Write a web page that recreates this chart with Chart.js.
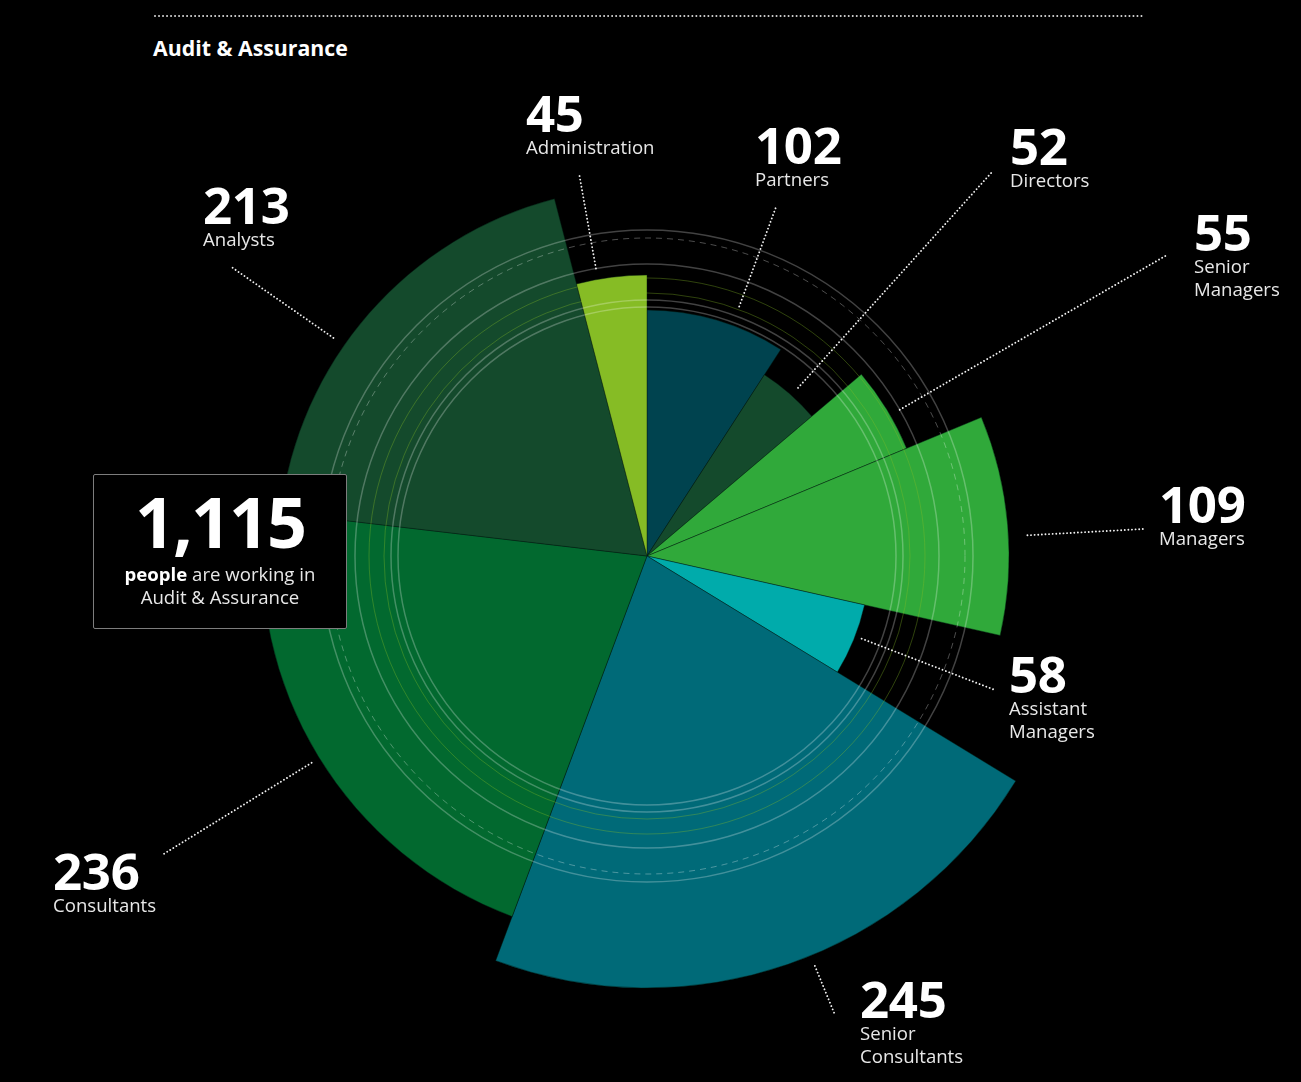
<!DOCTYPE html>
<html>
<head>
<meta charset="utf-8">
<script src="https://cdn.jsdelivr.net/npm/chart.js@4.4.1/dist/chart.umd.min.js"></script>
<style>
  html, body { margin: 0; padding: 0; background: #000; }
  body { width: 1301px; height: 1082px; position: relative; overflow: hidden; font-family: "Open Sans", "Noto Sans", sans-serif; }
  #wrap { position: absolute; left: 0; top: 0; width: 1301px; height: 1082px; }
  #topline { position: absolute; left: 154px; top: 14px; }
  #title { position: absolute; left: 153px; top: 34px; font-size: 21.3px; line-height: 28px; font-weight: 700; color: #fff; white-space: nowrap; }
  .lbl { position: absolute; white-space: nowrap; }
  .num { font-size: 51px; line-height: 45px; font-weight: 700; color: #fff; letter-spacing: -0.3px; }
  .name { font-size: 18.6px; line-height: 23px; color: #e8e8e8; }
  #box { position: absolute; left: 93px; top: 474px; width: 254px; height: 155px; box-sizing: border-box; border: 1px solid #7d7d7d; border-radius: 2px; background: #000; }
  #total { position: absolute; left: 0; right: 0; top: 10px; text-align: center; font-size: 70px; line-height: 72px; font-weight: 700; color: #fff; letter-spacing: -2px; }
  #sub { position: absolute; left: 0; right: 0; top: 87px; text-align: center; font-size: 18.6px; line-height: 23.3px; color: #e8e8e8; }
  #sub b { font-weight: 700; color: #fff; }
</style>
</head>
<body>
<svg id="topline" width="992" height="4"><line x1="1" y1="2" x2="990" y2="2" stroke="#d8d8d8" stroke-width="2" stroke-linecap="round" stroke-dasharray="0.01 4"/></svg>
<div id="title">Audit &amp; Assurance</div>
<div id="wrap"><canvas id="c"></canvas></div>
<div id="labels"></div>
<div id="box"><div id="total"></div><div id="sub"><b>people</b> are working in<br>Audit &amp; Assurance</div></div>
<script>
// ---- data ----
const categories = ["Partners", "Directors", "Senior Managers", "Managers", "Assistant Managers", "Senior Consultants", "Consultants", "Analysts", "Administration"];
const headcount = [102, 52, 55, 109, 58, 245, 236, 213, 45];          // slice angle
const reach = [246, 216, 281, 362, 223, 432, 385, 369, 281];          // slice radial extent (estimated)
const ringValues = [0, 249, 256, 263, 278, 292, 318, 326];            // decorative rings on the radial scale
const sliceColors = ["#00434f", "#144a2c", "#30a93a", "#30a93a", "#00abab", "#006a78", "#02692f", "#144a2c", "#86bc25"];

// ---- layout (label placement only) ----
const labelLayout = [
  { left: 755,  top: 121.5, wrap: false, lx: 776,  ly: 207, gap: 20 },
  { left: 1010, top: 122.8, wrap: false, lx: 992,  ly: 172, gap: 10 },
  { left: 1194, top: 208.8, wrap: true,  lx: 1167, ly: 255, gap: 11 },
  { left: 1159, top: 480.5, wrap: false, lx: 1143, ly: 529, gap: 19 },
  { left: 1009, top: 650.5, wrap: true,  lx: 995,  ly: 690, gap: 7 },
  { left: 860,  top: 975.5, wrap: true,  lx: 835,  ly: 1015, gap: 11 },
  { left: 53,   top: 847.8, wrap: false, lx: 162,  ly: 855, gap: 9 },
  { left: 203,  top: 182,   wrap: false, lx: 230,  ly: 266, gap: 13 },
  { left: 526,  top: 89.5,  wrap: false, lx: 579,  ly: 173, gap: 11 }
];

const total = headcount.reduce((a, b) => a + b, 0);
document.getElementById('total').textContent = total.toLocaleString('en-US');

const labelsDiv = document.getElementById('labels');
categories.forEach((name, i) => {
  const L = labelLayout[i];
  const d = document.createElement('div');
  d.className = 'lbl';
  d.style.left = L.left + 'px';
  d.style.top = L.top + 'px';
  const n = document.createElement('div');
  n.className = 'num';
  n.textContent = headcount[i];
  const t = document.createElement('div');
  t.className = 'name';
  if (L.wrap) {
    const parts = name.split(' ');
    t.innerHTML = parts[0] + '<br>' + parts.slice(1).join(' ');
  } else {
    t.textContent = name;
  }
  d.appendChild(n); d.appendChild(t);
  labelsDiv.appendChild(d);
});

const ringStyle = [
  null,
  { c: 'rgba(255,255,255,0.26)', w: 1.5, dash: [] },
  { c: 'rgba(255,255,255,0.26)', w: 1.5, dash: [] },
  { c: 'rgba(134,188,37,0.35)', w: 1, dash: [] },
  { c: 'rgba(134,188,37,0.35)', w: 1, dash: [] },
  { c: 'rgba(255,255,255,0.26)', w: 1.5, dash: [] },
  { c: 'rgba(255,255,255,0.30)', w: 1, dash: [6, 5] },
  { c: 'rgba(255,255,255,0.26)', w: 1.5, dash: [] }
];

const leaderPlugin = {
  id: 'leaders',
  afterDraw(chart) {
    const ctx = chart.ctx;
    const arcs = chart.getDatasetMeta(0).data;
    ctx.save();
    ctx.strokeStyle = '#f0f0f0';
    ctx.lineWidth = 1.9;
    ctx.lineCap = 'round';
    ctx.setLineDash([0.01, 3.6]);
    arcs.forEach((arc, i) => {
      const L = labelLayout[i];
      const dx = L.lx - arc.x, dy = L.ly - arc.y;
      const d = Math.hypot(dx, dy);
      const r0 = arc.outerRadius + L.gap;
      ctx.beginPath();
      ctx.moveTo(arc.x + dx / d * r0, arc.y + dy / d * r0);
      ctx.lineTo(L.lx, L.ly);
      ctx.stroke();
    });
    ctx.restore();
  }
};

new Chart(document.getElementById('c'), {
  type: 'polarArea',
  data: {
    labels: categories,
    datasets: [{
      data: reach,
      backgroundColor: sliceColors,
      borderColor: 'rgba(0,25,15,0.55)',
      borderWidth: 0.8,
      angle: (ctx) => headcount[ctx.dataIndex] / total * 360
    }]
  },
  options: {
    responsive: true,
    maintainAspectRatio: false,
    animation: false,
    events: [],
    layout: { padding: { left: 207, right: 214, top: 116, bottom: 86 } },
    plugins: { legend: { display: false }, tooltip: { enabled: false } },
    scales: {
      r: {
        min: 0,
        max: 440,
        startAngle: 0,
        ticks: { display: false },
        pointLabels: { display: false },
        angleLines: { display: false },
        afterBuildTicks: (scale) => { scale.ticks = ringValues.map(v => ({ value: v })); },
        grid: {
          circular: true,
          z: 1,
          color: (ctx) => ringStyle[ctx.index] ? ringStyle[ctx.index].c : 'rgba(0,0,0,0)',
          lineWidth: (ctx) => ringStyle[ctx.index] ? ringStyle[ctx.index].w : 0
        },
        border: {
          dash: (ctx) => ringStyle[ctx.index] ? ringStyle[ctx.index].dash : []
        }
      }
    }
  },
  plugins: [leaderPlugin]
});
</script>
</body>
</html>
